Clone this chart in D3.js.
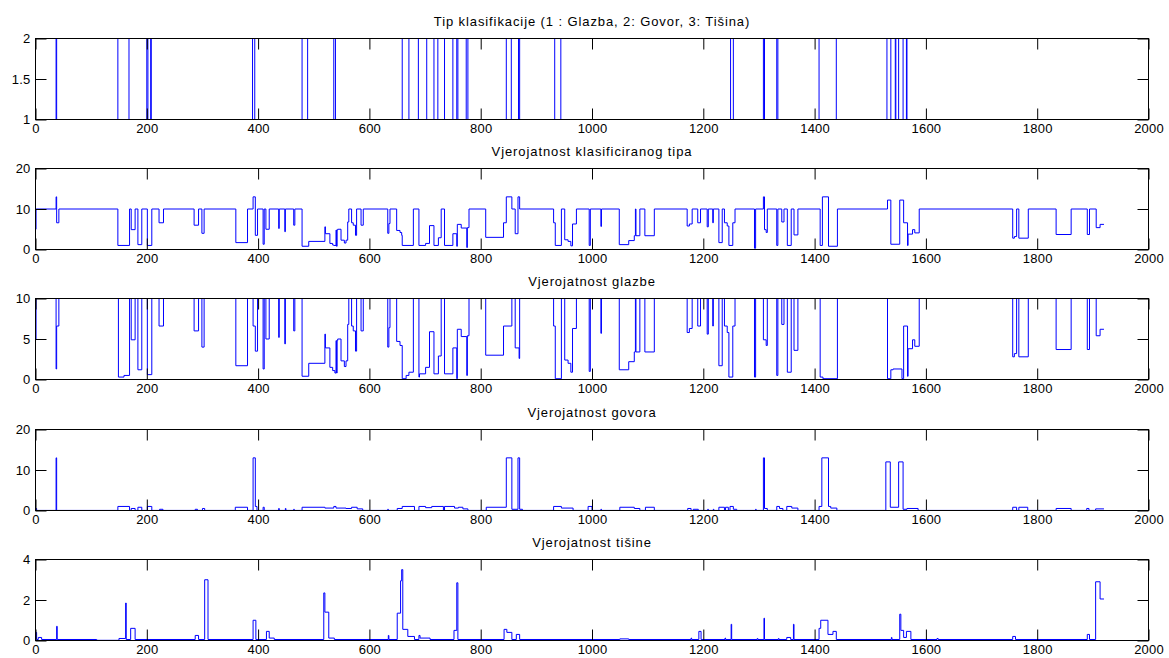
<!DOCTYPE html>
<html><head><meta charset="utf-8">
<script src="https://cdn.jsdelivr.net/npm/d3@7"></script>
<style>
body{margin:0;background:#fff}
svg{display:block}
text{font-family:"Liberation Sans",Arial,Helvetica,sans-serif;fill:#000}
</style>
</head><body>
<svg width="1169" height="658"></svg>
<script>
// Step series as [sampleIndex, value] breakpoints (value holds until next breakpoint)
const tip = [[0,1],[37,2],[38,1],[148,2],[168,1],[200,2],[202,1],[207,2],[208,1],[390,2],[394,1],
 [479,2],[489,1],[536,2],[539,1],[659,2],[671,1],[688,2],[703,1],[716,2],[723,1],[735,2],[750,1],
 [757,2],[759,1],[774,2],[777,1],[846,2],[855,1],[868,2],[870,1],[933,2],[944,1],[1249,2],[1254,1],
 [1308,2],[1310,1],[1332,2],[1334,1],[1408,2],[1439,1],[1530,2],[1537,1],[1545,2],[1546,1],
 [1551,2],[1559,1],[1565,2],[1566,1],[1920,1]];

const klasificirani = [[0,5],[1,10],[37,13],[38,6.6],[42,10],[148,1.0],[169,10],[172,4.9],[179,10],
 [184,1.2],[191,10],[201,1.0],[209,10],[222,6.6],[230,10],[285,6.0],[293,10],[299,4.0],[303,10],
 [360,1.7],[381,10],[391,13],[395,3.5],[399,10],[409,1.3],[411,10],[414,5.0],[420,10],[437,5.2],[438,10],
 [448,4.4],[449,10],[464,6.0],[466,10],[479,0.8],[491,2.0],[520,5.6],[521,3.9],[529,1.5],[534,1.1],
 [536,1.0],[540,4.8],[541,0.8],[542,4.8],[543,5.0],[549,2.3],[555,1.6],[558,2.3],[561,6.8],[563,10],
 [568,6.6],[571,6.0],[575,3.5],[577,10],[585,6.0],[589,10],[633,4.0],[635,6.4],[637,10],
 [649,4.7],[655,4.2],[658,3.5],[659,1.0],[679,10],[689,1.0],[701,1.5],[708,5.9],[716,1.0],[724,2.9],[729,10],
 [735,1.0],[750,3.9],[757,0.8],[758,6.2],[765,5.3],[775,0.5],[776,5.4],[779,10],
 [809,3.0],[841,6.6],[846,13],[856,10],[862,3.9],[867,13],[870,10],[931,6.6],[934,1.0],[945,10],
 [951,2.4],[957,2.0],[962,0.9],[965,6.3],[972,10],[995,1.0],[997,10],[1016,5.7],[1017,10],
 [1049,1.2],[1066,2.2],[1076,3.4],[1078,10],[1079,3.4],[1086,10],[1095,3.4],[1112,10],
 [1171,5.8],[1175,6.3],[1180,10],[1190,6.6],[1195,10],[1207,5.6],[1209,10],[1217,6.6],[1218,10],
 [1228,1.7],[1234,10],[1238,6.6],[1243,5.8],[1246,1.0],[1253,6.6],[1257,10],[1292,0.3],[1294,10],
 [1308,13],[1310,4.9],[1313,4.2],[1315,10],[1332,1.0],[1334,10],[1341,6.8],[1345,10],
 [1351,1.0],[1358,10],[1363,3.6],[1370,10],[1410,1.0],[1414,13],[1425,0.8],[1441,10],
 [1531,12.2],[1537,1.3],[1553,12.2],[1560,6.6],[1567,1.0],[1568,3.8],[1576,4.9],[1580,4.1],[1588,10],
 [1756,2.8],[1759,3.2],[1763,10],[1767,2.8],[1784,10],[1834,3.7],[1861,10],[1890,3.7],[1894,10],
 [1906,5.4],[1913,6.2],[1920,6.2]];

const glazba = [[0,5],[1,10],[37,1.3],[38,6.6],[42,10],[149,0.3],[159,0.5],[169,10],[172,4.9],[179,10],
 [184,1.2],[191,10],[201,0.6],[209,10],[222,6.6],[230,10],[285,6.0],[293,10],[299,4.0],[303,10],
 [360,1.7],[381,10],[391,6.6],[395,3.5],[399,10],[409,1.3],[411,10],[414,5.0],[420,10],[437,5.2],[438,10],
 [448,4.4],[449,10],[464,6.0],[466,10],[479,0.4],[491,2.0],[520,5.6],[521,3.9],[529,1.5],[534,1.1],
 [538,0.8],[540,4.8],[541,0.8],[542,4.8],[543,5.0],[549,2.3],[555,1.6],[558,2.3],[561,6.8],[563,10],
 [568,6.6],[571,6.0],[575,3.5],[577,10],[585,6.0],[589,10],[633,4.0],[635,6.4],[637,10],
 [649,4.7],[655,4.2],[659,0.1],[666,0.5],[671,0.9],[679,10],[689,0.3],[690,0.7],[701,1.5],[708,5.9],
 [716,0.7],[724,2.9],[729,10],[735,0.7],[750,3.9],[757,0.1],[758,6.2],[765,5.3],[775,0.5],[776,5.4],[779,10],
 [809,3.0],[841,6.6],[856,10],[862,3.9],[869,2.6],[870,10],[931,6.6],[934,0.1],[945,10],
 [951,2.4],[957,2.0],[962,0.9],[965,6.3],[972,10],[995,1.0],[997,10],[1016,5.7],[1017,10],
 [1049,1.2],[1066,2.2],[1076,3.4],[1078,10],[1079,3.4],[1086,10],[1095,3.4],[1112,10],
 [1171,5.8],[1175,6.3],[1180,10],[1190,6.6],[1195,10],[1207,5.6],[1209,10],[1217,6.6],[1218,10],
 [1228,1.7],[1234,10],[1238,6.6],[1243,5.8],[1246,0.3],[1253,6.6],[1257,10],[1292,0.3],[1294,10],
 [1308,4.9],[1313,4.2],[1315,10],[1332,0.5],[1334,10],[1341,6.8],[1345,10],[1351,0.9],[1358,10],
 [1363,3.6],[1370,10],[1410,0.3],[1415,0.1],[1441,10],
 [1531,0.1],[1537,1.2],[1541,1.3],[1557,0.1],[1560,6.6],[1567,0.4],[1568,3.8],[1576,4.9],[1580,4.1],[1588,10],
 [1756,2.8],[1759,3.2],[1763,10],[1767,2.8],[1784,10],[1834,3.7],[1861,10],[1890,3.7],[1894,10],
 [1906,5.4],[1913,6.2],[1920,6.2]];

const govor = [[0,0.5],[2,0.02],[37,13],[38,0.02],[148,1.0],[169,0.02],[172,0.5],[179,0.02],
 [184,0.8],[191,0.02],[201,1.0],[209,0.02],[223,0.3],[229,0.02],[287,0.3],[291,0.02],[300,0.5],[304,0.02],
 [359,0.8],[381,0.02],[391,13],[395,1.0],[398,0.02],[409,0.8],[411,0.02],[437,0.5],[438,0.02],
 [449,0.5],[450,0.02],[464,0.3],[465,0.02],[479,0.8],[520,0.6],[536,1.0],[540,0.6],[558,0.5],
 [568,0.8],[578,0.4],[588,0.02],[633,0.3],[634,0.02],[650,0.5],[659,1.0],[681,0.02],
 [689,1.0],[701,0.7],[712,1.0],[733,0.02],[735,1.0],[753,0.6],[760,0.8],[768,0.4],[777,0.02],
 [810,0.8],[846,13],[856,0.3],[867,13],[870,0.3],[875,0.02],[931,1.0],[945,0.6],[966,0.02],
 [993,1.0],[1000,0.02],[1016,0.3],[1017,0.02],[1050,0.8],[1076,0.5],[1086,0.02],[1096,0.8],[1112,0.02],
 [1172,0.5],[1178,0.02],[1182,0.3],[1191,0.02],[1208,0.3],[1209,0.02],[1218,0.3],[1219,0.02],
 [1228,0.8],[1238,0.02],[1240,0.8],[1245,0.02],[1248,1.0],[1254,0.3],[1260,0.02],[1294,0.3],[1295,0.02],
 [1308,13],[1310,0.5],[1315,0.02],[1332,1.0],[1337,0.5],[1343,0.02],[1350,1.0],[1359,0.6],[1370,0.02],
 [1408,1.0],[1413,13],[1425,1.0],[1429,0.6],[1440,0.02],
 [1528,12],[1536,0.8],[1551,12],[1559,0.3],[1566,0.5],[1586,0.02],
 [1756,0.8],[1763,0.02],[1767,0.8],[1783,0.02],[1834,0.5],[1861,0.02],[1889,0.5],[1893,0.02],
 [1905,0.4],[1920,0.4]];

const tisina = [[0,0.4],[2,0.05],[5,0.15],[11,0.05],[38,0.7],[39,0.05],[110,0.01],[150,0.1],[162,1.85],
 [163,0.05],[171,0.6],[179,0.05],[287,0.25],[293,0.05],[304,3.0],[310,0.05],[391,1.0],[396,0.05],
 [415,0.45],[420,0.12],[429,0.05],[518,2.35],[520,1.4],[527,0.12],[537,0.05],[634,0.25],[635,0.05],
 [650,1.35],[656,2.95],[658,3.5],[660,0.55],[669,0.2],[681,0.05],[689,0.25],[691,0.12],[709,0.05],
 [752,0.5],[757,2.85],[759,0.05],[842,0.55],[847,0.4],[856,0.05],[864,0.3],[870,0.05],
 [1050,0.08],[1066,0.05],[1178,0.12],[1179,0.05],[1192,0.45],[1196,0.05],[1239,0.12],[1240,0.05],
 [1250,0.8],[1251,0.05],[1297,0.1],[1298,0.05],[1309,1.1],[1310,0.05],[1335,0.1],[1336,0.05],
 [1350,0.15],[1357,0.05],[1362,0.8],[1363,0.05],[1408,0.6],[1411,1.0],[1424,0.3],[1433,0.45],[1439,0.05],
 [1538,0.15],[1539,0.05],[1553,1.3],[1555,0.5],[1560,0.15],[1565,0.45],[1573,0.05],[1620,0.1],[1622,0.05],
 [1756,0.2],[1761,0.05],[1890,0.3],[1894,0.05],[1905,2.9],[1913,2.05],[1920,2.05]];

const titles = ["Tip klasifikacije (1 : Glazba, 2: Govor, 3: Tišina)",
  "Vjerojatnost klasificiranog tipa", "Vjerojatnost glazbe", "Vjerojatnost govora", "Vjerojatnost tišine"];
const xTicks = [0,200,400,600,800,1000,1200,1400,1600,1800,2000];
const yDomains = [[1,2],[0,20],[0,10],[0,20],[0,4]];
const yTicks = [[1,1.5,2],[0,10,20],[0,5,10],[0,10,20],[0,2,4]];
const seriesList = [tip, klasificirani, glazba, govor, tisina];

const svg = d3.select("svg");
const L = 35.5, R = 1148.5, H = 81, TOP0 = 37.5, STEP = 130.35, TL = 11;
const x = d3.scaleLinear().domain([0, 2000]).range([L, R]);

seriesList.forEach((data, i) => {
  const t = Math.round(TOP0 + i * STEP) + 0.5;
  const b = t + H;
  const y = d3.scaleLinear().domain(yDomains[i]).range([b, t]);
  const g = svg.append("g");
  const cid = "clip" + i;
  g.append("clipPath").attr("id", cid).append("rect")
    .attr("x", L).attr("y", t - 1).attr("width", R - L).attr("height", H + 2);
  const line = d3.line().x(d => x(d[0])).y(d => y(d[1])).curve(d3.curveStepAfter);
  g.append("path").attr("d", line(data)).attr("clip-path", `url(#${cid})`)
    .attr("fill", "none").attr("stroke", "#0000ff").attr("stroke-width", 1);

  const fmt = d => String(d);
  const ax = [
    g.append("g").attr("transform", `translate(0,${b})`)
      .call(d3.axisBottom(x).tickValues(xTicks).tickFormat(fmt).tickSizeInner(-TL).tickSizeOuter(0).tickPadding(4)),
    g.append("g").attr("transform", `translate(0,${t})`)
      .call(d3.axisTop(x).tickValues(xTicks).tickFormat("").tickSizeInner(-TL).tickSizeOuter(0)),
    g.append("g").attr("transform", `translate(${L},0)`)
      .call(d3.axisLeft(y).tickValues(yTicks[i]).tickFormat(fmt).tickSizeInner(-TL).tickSizeOuter(0).tickPadding(5)),
    g.append("g").attr("transform", `translate(${R},0)`)
      .call(d3.axisRight(y).tickValues(yTicks[i]).tickFormat("").tickSizeInner(-TL).tickSizeOuter(0))
  ];
  ax.forEach(a => {
    a.select(".domain").remove();
    a.selectAll("line").attr("stroke", "#000");
    a.selectAll("text").attr("font-size", 13).attr("letter-spacing", 0.2)
      .attr("font-family", '"Liberation Sans",Arial,sans-serif').attr("fill", "#000");
  });
  g.append("rect").attr("x", L).attr("y", t).attr("width", R - L).attr("height", H)
    .attr("fill", "none").attr("stroke", "#000").attr("stroke-width", 1);
  g.append("text").attr("x", (L + R) / 2).attr("y", t - 13).attr("text-anchor", "middle")
    .attr("font-size", 13).attr("letter-spacing", 0.9).text(titles[i]);
});
</script>
</body></html>
